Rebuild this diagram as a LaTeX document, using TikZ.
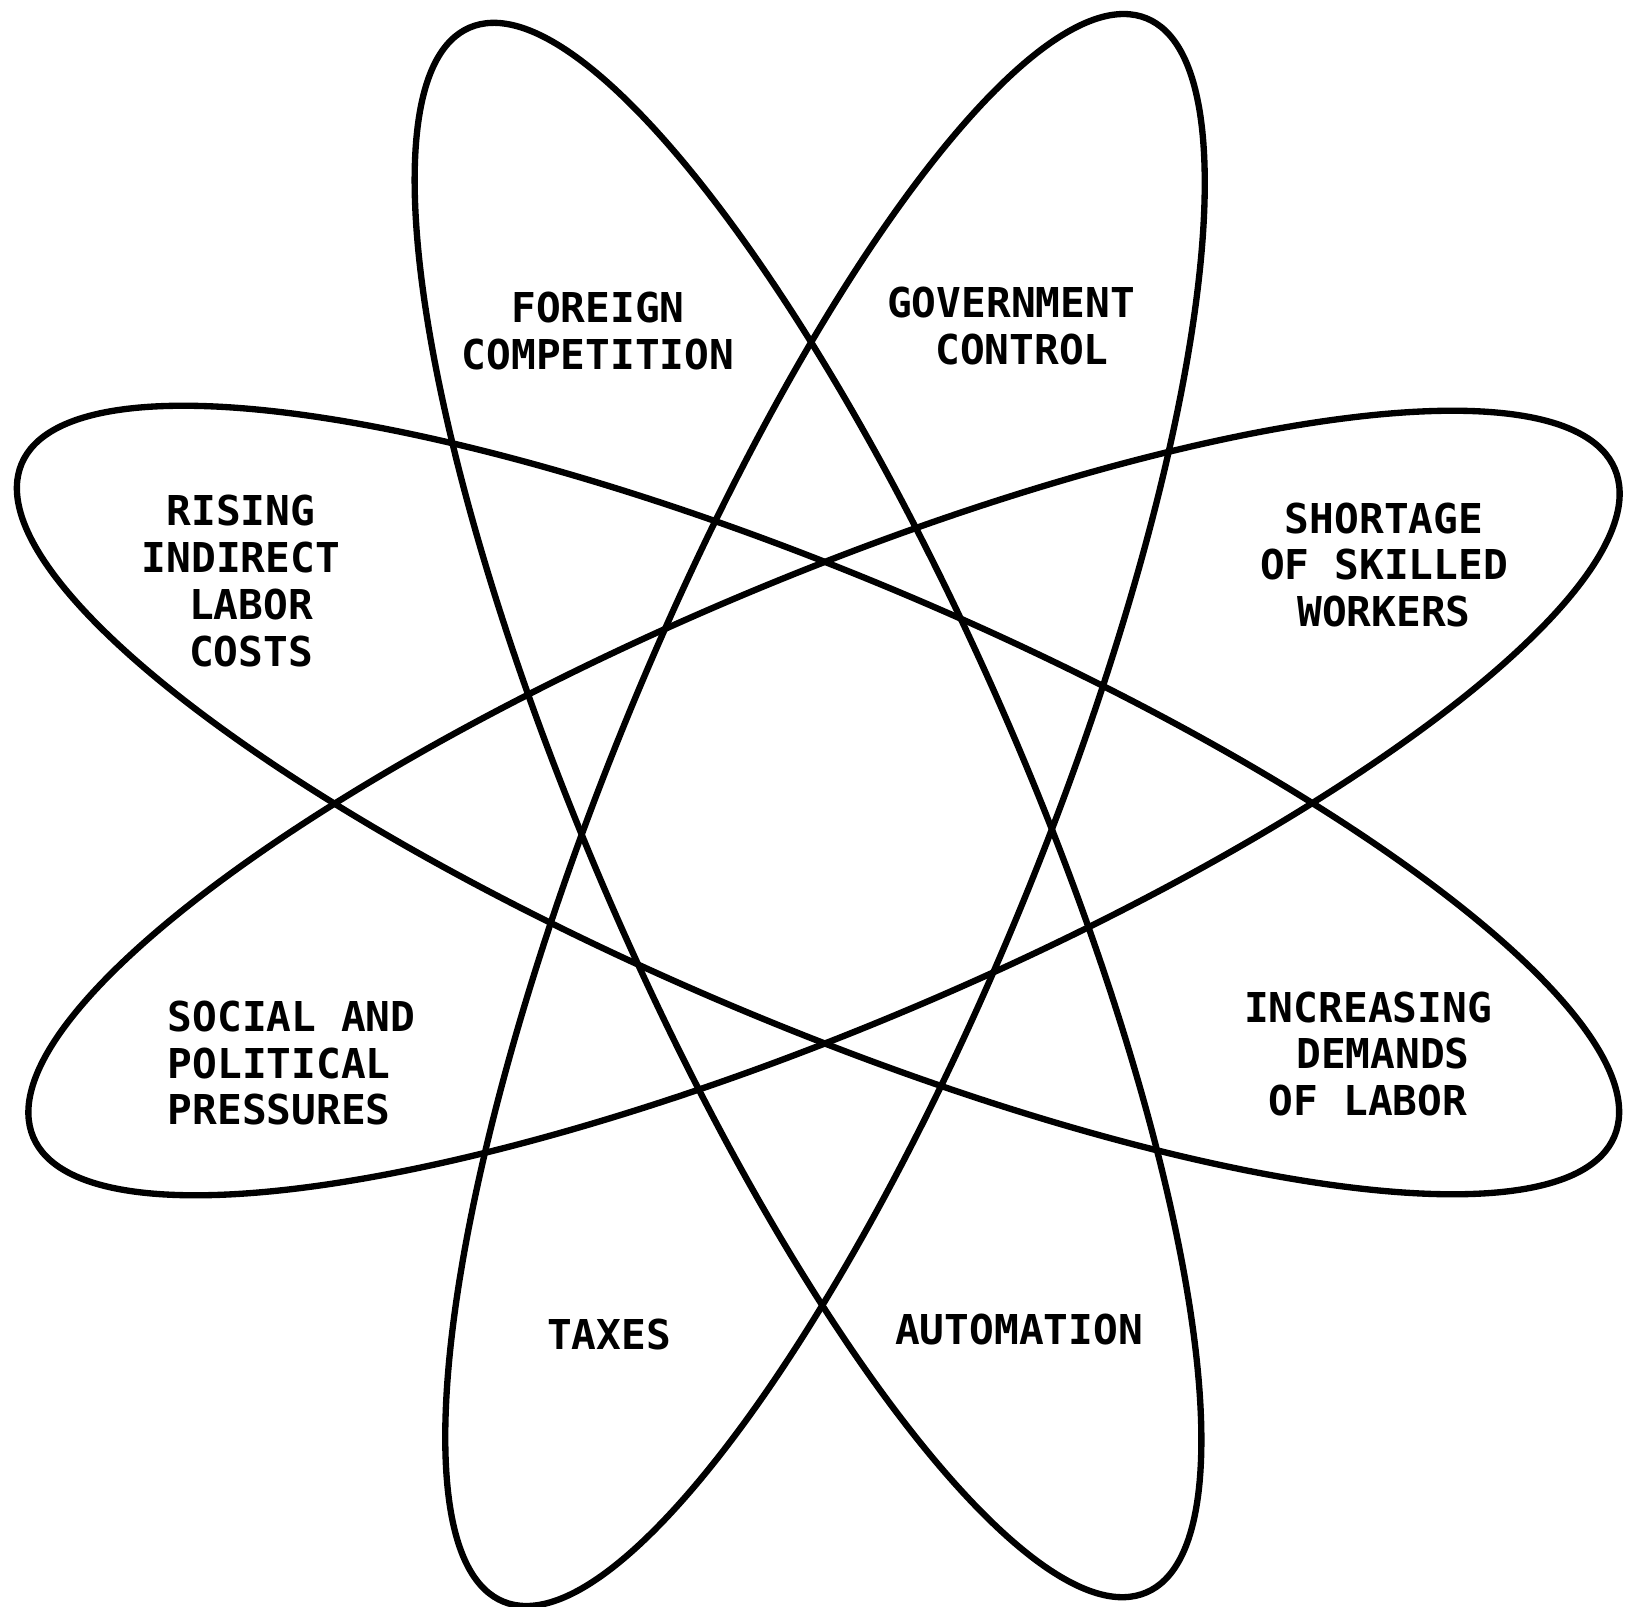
\documentclass[tikz,border=0pt]{standalone}
\usepackage{fontspec}
\setmonofont{DejaVu Sans Mono}
\begin{document}
\begin{tikzpicture}[x=0.01cm,y=-0.01cm,
    orbit/.style={line width=1.8pt,black},
    cause/.style={font=\ttfamily\bfseries\fontsize{11.7}{13.3}\selectfont,align=center,inner sep=0pt}]
\useasboundingbox (0,0) rectangle (1625,1606);
\draw[orbit,rotate around={-66.6:(808,810)}] (808,810) ellipse [x radius=8.52cm, y radius=2.18cm];
\draw[orbit,rotate around={67.9:(825,810)}] (825,810) ellipse [x radius=8.54cm, y radius=2.18cm];
\draw[orbit,rotate around={-22.9:(818,800)}] (818,800) ellipse [x radius=8.64cm, y radius=2.23cm];
\draw[orbit,rotate around={22.9:(824,803)}] (824,803) ellipse [x radius=8.58cm, y radius=2.23cm];
\node[cause] (foreign) at (598,331) {FOREIGN\\COMPETITION};
\node[cause] (govt) at (1011,326) {GOVERNMENT\\\hspace*{0.22cm}CONTROL};
\node[cause] (indirect) at (241,581) {RISING\\INDIRECT\\\hspace*{0.2cm}LABOR\\\hspace*{0.2cm}COSTS};
\node[cause] (skilled) at (1384,565) {SHORTAGE\\OF SKILLED\\WORKERS};
\node[cause,align=left,anchor=west] (social) at (167,1063) {SOCIAL AND\\POLITICAL\\PRESSURES};
\node[cause] (labor) at (1368,1054) {INCREASING\\\hspace*{0.3cm}DEMANDS\\OF LABOR};
\node[cause] (taxes) at (609,1334) {TAXES};
\node[cause] (automation) at (1019,1329) {AUTOMATION};
\end{tikzpicture}
\end{document}
